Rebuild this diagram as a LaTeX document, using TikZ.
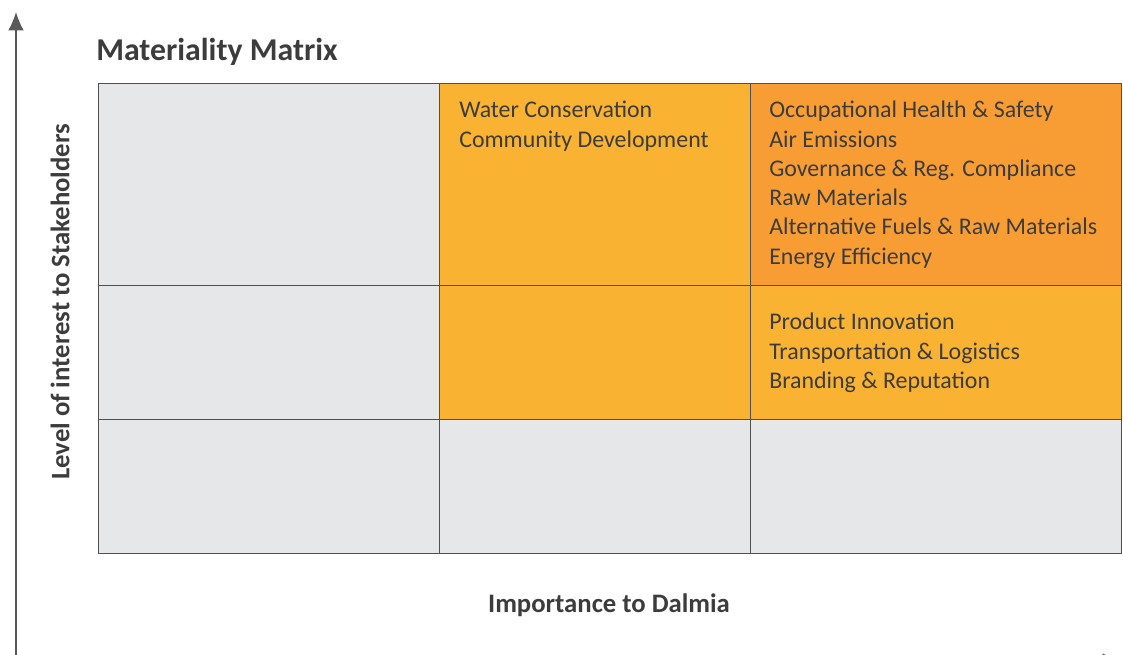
\documentclass[tikz,border=0pt]{standalone}
\usepackage{fontspec}
\setmainfont{Carlito}
\usepackage{xcolor}
\usetikzlibrary{arrows.meta}
\definecolor{cell-gray}{HTML}{E6E7E9}
\definecolor{cell-amber}{HTML}{F9B232}
\definecolor{cell-orange}{HTML}{F79D34}
\definecolor{ink}{HTML}{3C3C3C}
\tikzset{
    cell-box/.style = {draw=ink!90, line width=0.8pt, rectangle, anchor=north west, inner sep=0pt},
    cell-text/.style = {text=ink, anchor=north west, align=left, inner sep=0pt, font=\fontsize{17}{20.8}\selectfont},
    axis-label/.style = {text=ink, font=\bfseries\fontsize{19}{23}\selectfont},
    axis-line/.style = {draw=ink!85, line width=1pt, -{Latex[length=13pt,width=11pt]}},
}

\begin{document}
\begin{tikzpicture}[x=0.025cm, y=-0.025cm]
\useasboundingbox (0,0) rectangle (1123,655);
\clip (0,0) rectangle (1123,655);
% axes
\coordinate (origin) at (16,662);
\coordinate (y-top) at (16,12);
\coordinate (x-end) at (1121,661);
\draw[axis-line] (origin) -- (y-top);
\draw[axis-line] (origin) -- (x-end);
% matrix cells
\node[cell-box, fill=cell-gray, minimum width=341*0.025cm, minimum height=202*0.025cm] (c11) at (98,83) {};
\node[cell-box, fill=cell-amber, minimum width=311*0.025cm, minimum height=202*0.025cm] (c12) at (439,83) {};
\node[cell-box, fill=cell-orange, minimum width=371*0.025cm, minimum height=202*0.025cm] (c13) at (750,83) {};
\node[cell-box, fill=cell-gray, minimum width=341*0.025cm, minimum height=134*0.025cm] (c21) at (98,285) {};
\node[cell-box, fill=cell-amber, minimum width=311*0.025cm, minimum height=134*0.025cm] (c22) at (439,285) {};
\node[cell-box, fill=cell-amber, minimum width=371*0.025cm, minimum height=134*0.025cm] (c23) at (750,285) {};
\node[cell-box, fill=cell-gray, minimum width=341*0.025cm, minimum height=134*0.025cm] (c31) at (98,419) {};
\node[cell-box, fill=cell-gray, minimum width=311*0.025cm, minimum height=134*0.025cm] (c32) at (439,419) {};
\node[cell-box, fill=cell-gray, minimum width=371*0.025cm, minimum height=134*0.025cm] (c33) at (750,419) {};
% cell contents
\node[cell-text] (t12) at (459,101) {Water Conservation\\Community Development};
\node[cell-text] (t13) at (769,101) {Occupational Health \& Safety\\Air Emissions\\Governance \& Reg. Compliance\\Raw Materials\\Alternative Fuels \& Raw Materials\\Energy Efficiency};
\node[cell-text] (t23) at (769,313) {Product Innovation\\Transportation \& Logistics\\Branding \& Reputation};
% titles
\node[axis-label, anchor=west, inner sep=0pt, font=\bfseries\fontsize{22.6}{27}\selectfont] (title) at (96,52) {Materiality Matrix};
\node[axis-label] (x-label) at (609,605) {Importance to Dalmia};
\node[axis-label, rotate=90] (y-label) at (60,302) {Level of interest to Stakeholders};
\end{tikzpicture}
\end{document}
